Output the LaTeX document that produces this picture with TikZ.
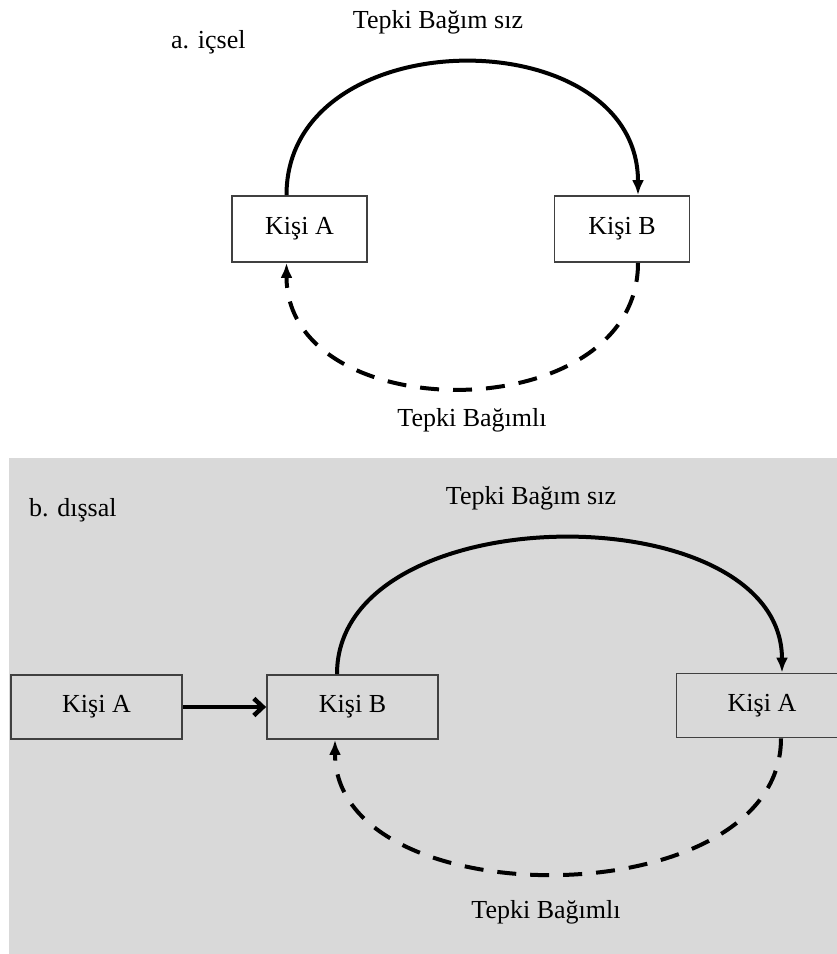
\documentclass[tikz,border=0pt]{standalone}
\usepackage{fontspec}
\setmainfont{Liberation Serif}
\usepackage{tikz}
\usetikzlibrary{arrows,arrows.meta,shapes,positioning}

\begin{document}
\begin{tikzpicture}[x=1pt,y=-1pt,
        kutu/.style={draw=black!75, line width=1.8pt, inner sep=0pt,
            minimum width=135pt, minimum height=66pt, font=\fontsize{26}{30}\selectfont},
        kutu2/.style={kutu, fill=black!15, minimum width=171pt, minimum height=64pt},
        yazi/.style={inner sep=0pt, font=\fontsize{26}{30}\selectfont},
        ok/.style={line width=4pt, ->, >={Latex[length=15pt,width=12pt]}},
        kesik/.style={ok, dash pattern=on 19pt off 14pt}]
        \useasboundingbox (0,0) rectangle (837,954);
        \fill[black!15] (9,458) rectangle (837,954);

        % a. icsel
        \node[yazi, anchor=west] (la) at (171,42) {a. içsel};
        \node[yazi] (ust1) at (438,22) {Tepki Bağım sız};
        \node[kutu, fill=white] (a) at (299.5,229) {Kişi A};
        \node[kutu, fill=white] (b) at (622,229) {Kişi B};
        \node[yazi] (alt1) at (472,420) {Tepki Bağımlı};

        \draw[ok] ([xshift=-13pt]a.north) .. controls +(0,-177) and +(0,-177) .. ([xshift=16pt]b.north);
        \draw[kesik] ([xshift=16pt]b.south) .. controls +(0,167) and +(0,167) .. ([xshift=-13pt]a.south);

        % b. dissal
        \node[yazi, anchor=west] (lb) at (29,510) {b. dışsal};
        \node[yazi] (ust2) at (531,498) {Tepki Bağım sız};
        \node[kutu2] (c) at (96.5,707) {Kişi A};
        \node[kutu2] (d) at (352.5,707) {Kişi B};
        \node[kutu2] (e) at (762,705.5) {Kişi A};
        \node[yazi] (alt2) at (546,912) {Tepki Bağımlı};

        \draw[->, >={Straight Barb[length=9pt,width=17pt]}, line width=4.5pt] (c) -- (d);
        \draw[ok] ([xshift=-15.5pt]d.north) .. controls +(0,-180) and +(0,-180) .. ([xshift=20pt]e.north);
        \draw[kesik] ([xshift=19pt]e.south) .. controls +(0,179) and +(0,179) .. ([xshift=-17.5pt]d.south);

    \end{tikzpicture}
\end{document}
